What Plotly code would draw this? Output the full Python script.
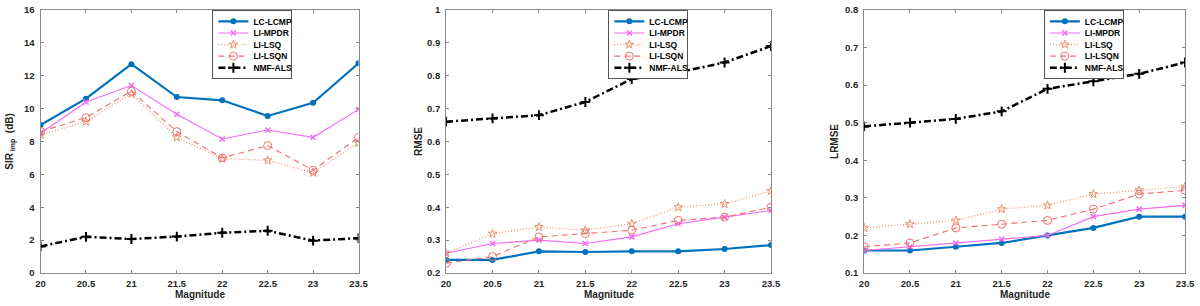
import plotly.graph_objects as go

magnitude = [20, 20.5, 21, 21.5, 22, 22.5, 23, 23.5]
x_ticks = [20, 20.5, 21, 21.5, 22, 22.5, 23, 23.5]
x_tick_labels = ["20", "20.5", "21", "21.5", "22", "22.5", "23", "23.5"]

series_names = ["LC-LCMP", "LI-MPDR", "LI-LSQ", "LI-LSQN", "NMF-ALS"]

# SIR_imp (dB)
sir_lc_lcmp = [9.0, 10.6, 12.7, 10.7, 10.5, 9.55, 10.35, 12.75]
sir_li_mpdr = [8.5, 10.4, 11.4, 9.65, 8.15, 8.7, 8.25, 9.95]
sir_li_lsq = [8.4, 9.2, 10.9, 8.25, 6.95, 6.85, 6.1, 7.9]
sir_li_lsqn = [8.6, 9.45, 11.05, 8.6, 7.0, 7.75, 6.25, 8.25]
sir_nmf_als = [1.62, 2.2, 2.07, 2.22, 2.45, 2.57, 1.97, 2.12]

# RMSE
rmse_lc_lcmp = [0.24, 0.24, 0.266, 0.264, 0.266, 0.266, 0.273, 0.285]
rmse_li_mpdr = [0.26, 0.29, 0.30, 0.29, 0.31, 0.35, 0.37, 0.39]
rmse_li_lsq = [0.26, 0.32, 0.34, 0.33, 0.35, 0.40, 0.41, 0.45]
rmse_li_lsqn = [0.23, 0.25, 0.31, 0.32, 0.33, 0.36, 0.37, 0.40]
rmse_nmf_als = [0.66, 0.67, 0.68, 0.72, 0.79, 0.81, 0.84, 0.89]

# LRMSE
lrmse_lc_lcmp = [0.16, 0.16, 0.17, 0.18, 0.20, 0.22, 0.25, 0.25]
lrmse_li_mpdr = [0.16, 0.17, 0.18, 0.19, 0.20, 0.25, 0.27, 0.28]
lrmse_li_lsq = [0.22, 0.23, 0.24, 0.27, 0.28, 0.31, 0.32, 0.33]
lrmse_li_lsqn = [0.17, 0.18, 0.22, 0.23, 0.24, 0.27, 0.31, 0.32]
lrmse_nmf_als = [0.49, 0.50, 0.51, 0.53, 0.59, 0.61, 0.63, 0.66]

sir_ticks = [0, 2, 4, 6, 8, 10, 12, 14, 16]
rmse_ticks = [0.2, 0.3, 0.4, 0.5, 0.6, 0.7, 0.8, 0.9, 1.0]
rmse_tick_labels = ["0.2", "0.3", "0.4", "0.5", "0.6", "0.7", "0.8", "0.9", "1"]
lrmse_ticks = [0.1, 0.2, 0.3, 0.4, 0.5, 0.6, 0.7, 0.8]
lrmse_tick_labels = ["0.1", "0.2", "0.3", "0.4", "0.5", "0.6", "0.7", "0.8"]

x_title = "Magnitude"

panels = [
    dict(data=[sir_lc_lcmp, sir_li_mpdr, sir_li_lsq, sir_li_lsqn, sir_nmf_als],
         ylabel="SIR<sub> imp</sub>  (dB)", yrange=[0, 16], ticks=sir_ticks,
         ticklabels=[str(t) for t in sir_ticks], standoff=8),
    dict(data=[rmse_lc_lcmp, rmse_li_mpdr, rmse_li_lsq, rmse_li_lsqn, rmse_nmf_als],
         ylabel="RMSE", yrange=[0.2, 1.0], ticks=rmse_ticks, ticklabels=rmse_tick_labels,
         standoff=2),
    dict(data=[lrmse_lc_lcmp, lrmse_li_mpdr, lrmse_li_lsq, lrmse_li_lsqn, lrmse_nmf_als],
         ylabel="LRMSE", yrange=[0.1, 0.8], ticks=lrmse_ticks, ticklabels=lrmse_tick_labels,
         standoff=4),
]

styles = [
    dict(line=dict(color="#0072BD", width=2.2, dash="solid"),
         marker=dict(symbol="circle", size=6, color="#0072BD")),
    dict(line=dict(color="#F26BF2", width=1.1, dash="solid"),
         marker=dict(symbol="x-thin-open", size=5, line=dict(color="#F040F0", width=1.5))),
    dict(line=dict(color="#E8916A", width=1.2, dash="1px,2px"),
         marker=dict(symbol="star-open", size=6.5, line=dict(color="#E07040", width=1))),
    dict(line=dict(color="#F07070", width=1.1, dash="6px,4px"),
         marker=dict(symbol="circle-open", size=8, line=dict(color="#F04040", width=1))),
    dict(line=dict(color="#000000", width=2.5, dash="7px,3px,2px,3px"),
         marker=dict(symbol="cross-thin-open", size=7, line=dict(color="#000000", width=2))),
]

W, H = 1200, 306
x_domains = [(36 / W, 358 / W), (446.7 / W, 775.7 / W), (870 / W, 1195 / W)]
y_domain = ((306 - 277) / H, (306 - 4) / H)
legend_pos = [(210 / W), (611 / W), (1052 / W)]

font_family = "Liberation Sans, Arial, sans-serif"
axis_color = "#8a8a8a"
text_color = "#262626"

fig = go.Figure()
layout_updates = {}
annotations = []
for i, p in enumerate(panels):
    n = "" if i == 0 else str(i + 1)
    legend_name = "legend" if i == 0 else f"legend{i + 1}"
    for name, vals, st in zip(series_names, p["data"], styles):
        fig.add_trace(go.Scatter(
            x=magnitude, y=vals, name=name, mode="lines+markers",
            line=st["line"], marker=st["marker"],
            xaxis="x" + n, yaxis="y" + n, legend=legend_name,
        ))
    layout_updates["xaxis" + n] = dict(
        domain=list(x_domains[i]), range=[20, 23.5], anchor="y" + n,
        tickmode="array", tickvals=x_ticks, ticktext=x_tick_labels,
        ticks="inside", ticklen=3, tickcolor=axis_color, mirror="ticks",
        showline=True, linecolor=axis_color, linewidth=1, showgrid=False, zeroline=False,
        ticklabeloverflow="allow", ticklabelstandoff=2,
        tickfont=dict(family=font_family, size=9.5, color=text_color, weight="bold"),
    )
    layout_updates["yaxis" + n] = dict(
        domain=list(y_domain), range=p["yrange"], anchor="x" + n,
        tickmode="array", tickvals=p["ticks"], ticktext=p["ticklabels"],
        ticks="inside", ticklen=3, tickcolor=axis_color, mirror="ticks",
        showline=True, linecolor=axis_color, linewidth=1, showgrid=False, zeroline=False,
        ticklabeloverflow="allow", ticklabelstandoff=3,
        tickfont=dict(family=font_family, size=9.5, color=text_color, weight="bold"),
        title=dict(text=p["ylabel"], standoff=p["standoff"],
                   font=dict(family=font_family, size=10, color=text_color, weight="bold")),
    )
    layout_updates[legend_name] = dict(
        x=legend_pos[i], y=y_domain[1], xanchor="left", yanchor="top",
        bgcolor="white", bordercolor="#555555", borderwidth=1,
        font=dict(family=font_family, size=8.5, color="#000000", weight="bold"),
        tracegroupgap=0, itemwidth=30,
    )
    annotations.append(dict(
        text=x_title, xref="paper", yref="paper",
        x=(x_domains[i][0] + x_domains[i][1]) / 2, y=(306 - 299) / H,
        xanchor="center", yanchor="middle", showarrow=False,
        font=dict(family=font_family, size=10, color=text_color, weight="bold"),
    ))

fig.update_layout(
    width=W, height=H, margin=dict(l=0, r=0, t=0, b=0),
    paper_bgcolor="white", plot_bgcolor="white", showlegend=True,
    hovermode=False,
    annotations=annotations,
    **layout_updates,
)

# Page styling (no body margin) and compact legend rows (Matlab-style spacing).
page_js = """
document.body.style.margin = '0';
document.body.style.overflow = 'hidden';
var gd = document.getElementById('{plot_id}');
function compactLegends() {
  var step = 11.6;
  var groups = gd.querySelectorAll('g.infolayer > g');
  groups.forEach(function (lg) {
    var cls = lg.getAttribute('class') || '';
    if (!/^legend\\d*$/.test(cls)) return;
    var items = lg.querySelectorAll('g.traces');
    if (!items.length) return;
    var ys = [];
    items.forEach(function (t) {
      var m = /translate\\(([-\\d.e]+)[ ,]+([-\\d.e]+)\\)/.exec(t.getAttribute('transform') || '');
      ys.push(m ? [parseFloat(m[1]), parseFloat(m[2])] : [0, 0]);
    });
    var oldStep = ys.length > 1 ? ys[1][1] - ys[0][1] : step;
    if (Math.abs(oldStep - step) < 0.01) return;
    var y0 = ys[0][1] - 4;
    items.forEach(function (t, i) {
      t.setAttribute('transform', 'translate(' + ys[i][0] + ',' + (y0 + i * step) + ')');
    });
    var shrink = (oldStep - step) * (items.length - 1) + 8;
    var bg = lg.querySelector('rect.bg');
    if (bg) {
      var h = parseFloat(bg.getAttribute('height'));
      var w = parseFloat(bg.getAttribute('width'));
      bg.setAttribute('height', h - shrink);
      bg.setAttribute('width', w - 6);
    }
  });
}
compactLegends();
gd.on('plotly_afterplot', compactLegends);
"""

fig.write_html("out.html", post_script=page_js, config={"displayModeBar": False})
